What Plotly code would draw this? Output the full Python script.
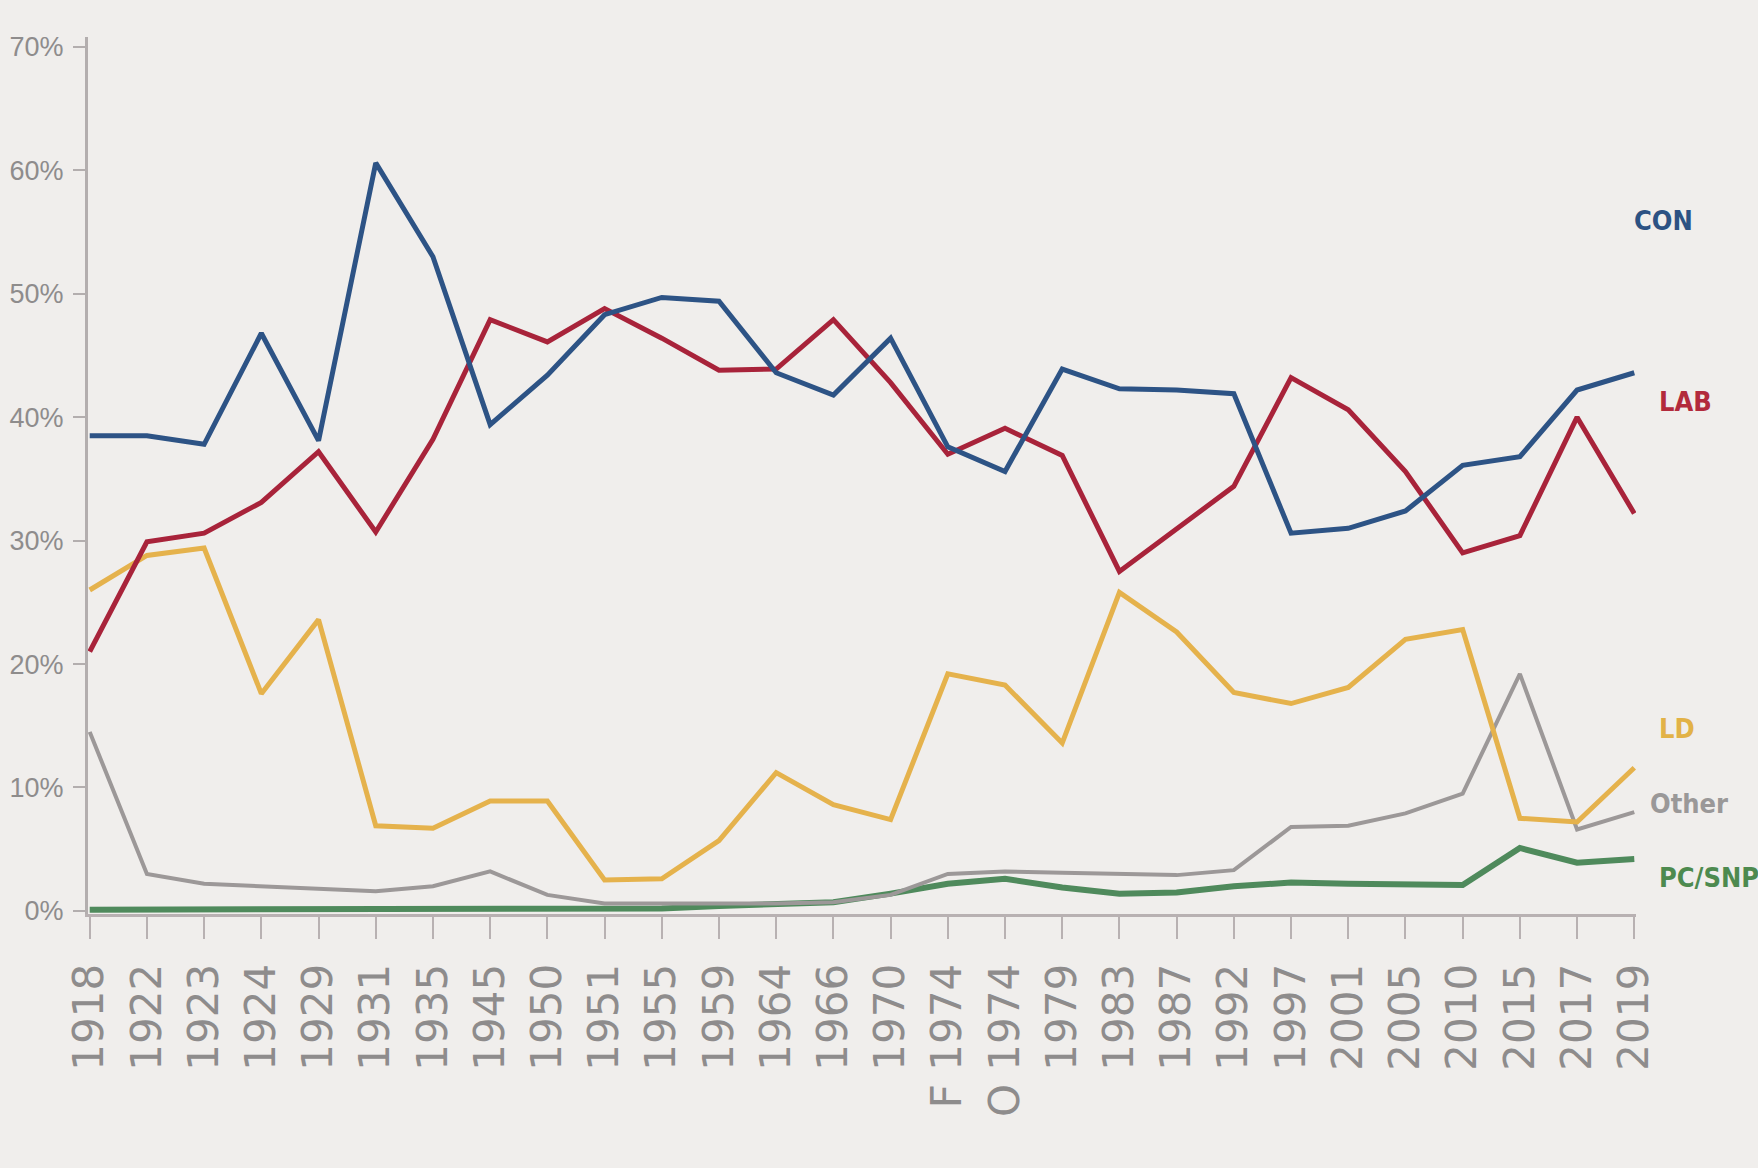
import plotly.graph_objects as go

# ---- data ----
years = ["1918", "1922", "1923", "1924", "1929", "1931", "1935", "1945", "1950",
         "1951", "1955", "1959", "1964", "1966", "1970", "F 1974", "O 1974",
         "1979", "1983", "1987", "1992", "1997", "2001", "2005", "2010",
         "2015", "2017", "2019"]

con = [38.5, 38.5, 37.8, 46.8, 38.1, 60.6, 53.0, 39.4, 43.4, 48.3, 49.7, 49.4,
       43.6, 41.8, 46.4, 37.6, 35.6, 43.9, 42.3, 42.2, 41.9, 30.6, 31.0, 32.4,
       36.1, 36.8, 42.2, 43.6]
lab = [21.0, 29.9, 30.6, 33.1, 37.2, 30.7, 38.2, 47.9, 46.1, 48.8, 46.4, 43.8,
       43.9, 47.9, 42.8, 37.0, 39.1, 36.9, 27.5, 30.9, 34.4, 43.2, 40.6, 35.6,
       29.0, 30.4, 40.0, 32.2]
ld = [26.0, 28.8, 29.4, 17.6, 23.6, 6.9, 6.7, 8.9, 8.9, 2.5, 2.6, 5.7, 11.2,
      8.6, 7.4, 19.2, 18.3, 13.6, 25.8, 22.6, 17.7, 16.8, 18.1, 22.0, 22.8,
      7.5, 7.2, 11.6]
other = [14.5, 3.0, 2.2, 2.0, 1.8, 1.6, 2.0, 3.2, 1.3, 0.6, 0.6, 0.6, 0.6,
         0.7, 1.3, 3.0, 3.2, 3.1, 3.0, 2.9, 3.3, 6.8, 6.9, 7.9, 9.5, 19.2,
         6.6, 8.0]
pcsnp = [0.1, 0.1, 0.1, 0.1, 0.1, 0.1, 0.1, 0.2, 0.1, 0.1, 0.2, 0.4, 0.5, 0.7,
         1.4, 2.2, 2.6, 1.9, 1.4, 1.5, 2.0, 2.3, 2.2, 2.1, 2.1, 5.1, 3.9, 4.2]

y_ticks = [0, 10, 20, 30, 40, 50, 60, 70]
y_tick_labels = ["0%", "10%", "20%", "30%", "40%", "50%", "60%", "70%"]

series_names = ["CON", "LAB", "LD", "Other", "PC/SNP"]

# ---- styling ----
line_colors = {"CON": "#2d5385", "LAB": "#a8233a", "LD": "#e5b24c",
               "Other": "#9c9898", "PC/SNP": "#4f8a5c"}
label_colors = {"CON": "#2c5283", "LAB": "#b22a3c", "LD": "#e2b247",
                "Other": "#9a9898", "PC/SNP": "#4d8a4f"}
widths = {"CON": 5, "LAB": 5, "LD": 5, "Other": 4, "PC/SNP": 6}

values = {"CON": con, "LAB": lab, "LD": ld, "Other": other, "PC/SNP": pcsnp}
xs = list(range(len(years)))

fig = go.Figure()
for name in ["PC/SNP", "Other", "LD", "LAB", "CON"]:
    fig.add_trace(go.Scatter(
        x=xs, y=values[name], mode="lines", name=name,
        line=dict(color=line_colors[name], width=widths[name]),
        showlegend=False, hoverinfo="skip"))

# end labels (paper x, data y)
label_pos = {"CON": (0.9975, 55.9), "LAB": (1.0135, 41.3), "LD": (1.0135, 14.8),
             "Other": (1.0075, 8.7), "PC/SNP": (1.0135, 2.7)}
label_font = "DejaVu Sans Condensed, Liberation Sans, Arial, sans-serif"
for name in series_names:
    px, py = label_pos[name]
    fig.add_annotation(
        x=px, y=py, xref="paper", yref="y", text="<b>%s</b>" % name,
        showarrow=False, xanchor="left", yanchor="middle",
        font=dict(family=label_font, size=27, color=label_colors[name]))

fig.update_layout(
    template="none",
    width=1758, height=1168,
    margin=dict(l=88, r=122, t=37, b=254, autoexpand=False),
    paper_bgcolor="#f0eeec", plot_bgcolor="#f0eeec",
    font=dict(family="Liberation Sans, Arial, sans-serif", color="#8c8a8a"),
)
fig.update_xaxes(
    range=[-0.03, 27.03], tickmode="array", tickvals=xs, ticktext=years,
    tickangle=-90, showgrid=False, zeroline=False, automargin=False,
    showline=True, linecolor="#b8b1b2", linewidth=3,
    ticks="outside", ticklen=22, tickwidth=2, tickcolor="#b8b1b2",
    ticklabelstandoff=8,
    tickfont=dict(family="DejaVu Sans, sans-serif", size=42, color="#8e8c8c"),
    layer="below traces",
)
fig.update_yaxes(
    range=[-0.25, 70.8], tickmode="array", tickvals=y_ticks, ticktext=y_tick_labels,
    showgrid=False, zeroline=False, automargin=False,
    showline=True, linecolor="#b3aeae", linewidth=3,
    ticks="outside", ticklen=12, tickwidth=2, tickcolor="#b3aeae",
    ticklabelstandoff=4,
    tickfont=dict(family="Liberation Sans, sans-serif", size=27, color="#8e8c8c"),
    layer="below traces",
)

fig.write_html("out.html",
               config={"displayModeBar": False},
               post_script="document.body.style.margin='0';"
                           "document.body.style.overflow='hidden';")
